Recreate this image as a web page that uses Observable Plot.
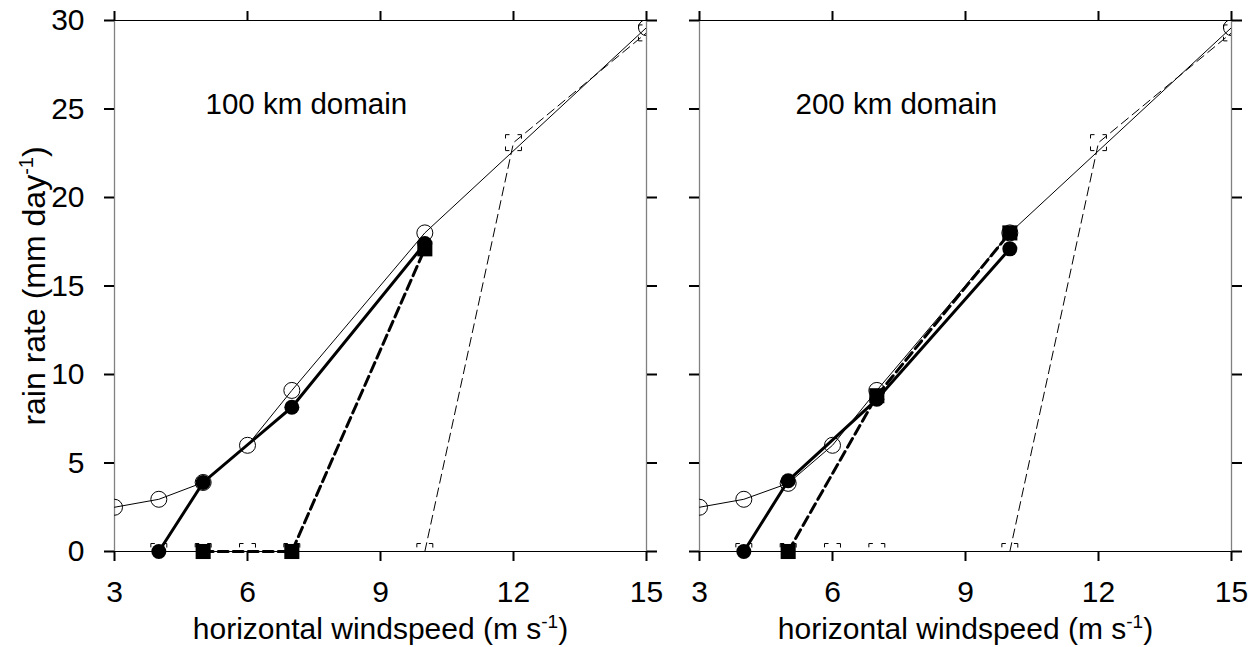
<!DOCTYPE html>
<html><head><meta charset="utf-8">
<script src="https://cdn.jsdelivr.net/npm/d3@7"></script>
<script src="https://cdn.jsdelivr.net/npm/@observablehq/plot@0.6"></script>
<style>
body{margin:0;background:#fff;}
#chart{display:flex;width:1259px;height:647px;}
#chart svg{overflow:visible;}
</style></head><body><div id="chart"></div>
<script>
// ---- data ----
const xTicks = [3, 6, 9, 12, 15];
const yTicks = [0, 5, 10, 15, 20, 25, 30];
const panelTitles = ["100 km domain", "200 km domain"];
const xLabel = "horizontal windspeed (m s-1)";
const yLabel = "rain rate (mm day-1)";

// open circles, thin solid line
const openCircleX = [3, 4, 5, 6, 7, 10, 15];
const openCircleY100 = [2.5, 2.95, 3.9, 6.0, 9.1, 18.0, 29.6];
const openCircleY200 = [2.5, 2.95, 3.85, 6.0, 9.1, 18.0, 29.6];
// filled circles, thick solid line
const filledCircleX = [4, 5, 7, 10];
const filledCircleY100 = [0, 3.9, 8.15, 17.4];
const filledCircleY200 = [0, 4.0, 8.6, 17.1];
// filled squares, thick dashed line
const filledSquareX = [5, 7, 10];
const filledSquareY100 = [0, 0, 17.1];
const filledSquareY200 = [0, 8.8, 18.0];
// open squares, thin dashed line
const openSquareX = [4, 5, 6, 7, 10, 12, 15];
const openSquareY100 = [0, 0, 0, 0, 0, 23.1, 29.3];
const openSquareY200 = [0, 0, 0, 0, 0, 23.1, 29.3];

const rows = (xs, ys) => xs.map((x, i) => ({x, y: ys[i]}));

const panels = [
  {title: panelTitles[0], oc: rows(openCircleX, openCircleY100), fc: rows(filledCircleX, filledCircleY100),
   fs: rows(filledSquareX, filledSquareY100), os: rows(openSquareX, openSquareY100),
   width: 660, ml: 114, mr: 14, yLabels: true, tdx: 91},
  {title: panelTitles[1], oc: rows(openCircleX, openCircleY200), fc: rows(filledCircleX, filledCircleY200),
   fs: rows(filledSquareX, filledSquareY200), os: rows(openSquareX, openSquareY200),
   width: 599, ml: 39, mr: 28, yLabels: false, tdx: 96}
];

const FONT = "'Liberation Sans', Arial, Helvetica, sans-serif";

function build(p) {
  const xd = [xTicks[0], xTicks[xTicks.length - 1]];
  const yd = [yTicks[0], yTicks[yTicks.length - 1]];
  const svg = Plot.plot({
    width: p.width, height: 647,
    marginLeft: p.ml, marginRight: p.mr, marginTop: 20, marginBottom: 96,
    style: {fontFamily: FONT, fontSize: "30px", background: "none", overflow: "visible", color: "black"},
    x: {domain: xd},
    y: {domain: yd},
    marks: [
      Plot.ruleX(xd, {stroke: "#808080", strokeWidth: 1.3}),
      Plot.ruleY(yd, {stroke: "black", strokeWidth: 1.2}),
      Plot.axisX({anchor: "bottom", ticks: xTicks, tickSize: 10, tickPadding: 19, strokeWidth: 2,
        label: xLabel, labelAnchor: "center", labelOffset: 87, labelArrow: "none", fontSize: 30}),
      Plot.axisX({anchor: "top", ticks: xTicks, tickSize: 10, strokeWidth: 2, tickFormat: () => "", label: null}),
      Plot.axisY({anchor: "left", ticks: yTicks, tickSize: 10, tickPadding: 20, strokeWidth: 2,
        tickFormat: p.yLabels ? (d => String(d)) : (() => ""),
        label: p.yLabels ? yLabel : null, labelAnchor: "center", labelOffset: 92, labelArrow: "none", fontSize: 30}),
      Plot.axisY({anchor: "right", ticks: yTicks, tickSize: 10, strokeWidth: 2, tickFormat: () => "", label: null}),
      // lines
      Plot.line(p.oc, {x: "x", y: "y", stroke: "black", strokeWidth: 1, clip: true}),
      Plot.line(p.os, {x: "x", y: "y", stroke: "black", strokeWidth: 1, strokeDasharray: "9,5", clip: true}),
      Plot.line(p.fs, {x: "x", y: "y", stroke: "black", strokeWidth: 3, strokeDasharray: "10,5"}),
      Plot.line(p.fc, {x: "x", y: "y", stroke: "black", strokeWidth: 3}),
      // markers
      Plot.dot(p.oc, {x: "x", y: "y", r: 8, stroke: "black", strokeWidth: 1, fill: "none", clip: true}),
      Plot.dot(p.os, {x: "x", y: "y", r: 9, symbol: "square", stroke: "black", strokeWidth: 1,
        fill: "none", strokeDasharray: "4,8,4,0", clip: true}),
      Plot.dot(p.fc, {x: "x", y: "y", r: 7.5, fill: "black", stroke: "none"}),
      Plot.dot(p.fs, {x: "x", y: "y", r: 8.5, symbol: "square", fill: "black", stroke: "none"}),
      // panel title
      Plot.text([p.title], {text: d => d, frameAnchor: "top-left", dx: p.tdx, dy: 73,
        textAnchor: "start", fontSize: 29.5, fill: "black"})
    ]
  });
  // superscripts in axis titles
  svg.querySelectorAll("text").forEach(t => {
    const s = t.textContent;
    const m = s.match(/^(.*\()(.*?)(-1)(\))$/);
    if (m && (s === xLabel || s === yLabel)) {
      const big = s === yLabel;
      t.textContent = "";
      if (big) t.setAttribute("font-size", "32");
      const ns = "http://www.w3.org/2000/svg";
      const a = document.createElementNS(ns, "tspan"); a.textContent = m[1] + m[2];
      const b = document.createElementNS(ns, "tspan"); b.textContent = m[3];
      b.setAttribute("dy", big ? "-12" : "-11"); b.setAttribute("font-size", big ? "20" : "19");
      const c = document.createElementNS(ns, "tspan"); c.textContent = m[4];
      c.setAttribute("dy", big ? "12" : "11");
      t.append(a, b, c);
    }
  });
  return svg;
}

const root = document.getElementById("chart");
panels.forEach(p => root.appendChild(build(p)));
</script>
</body></html>
